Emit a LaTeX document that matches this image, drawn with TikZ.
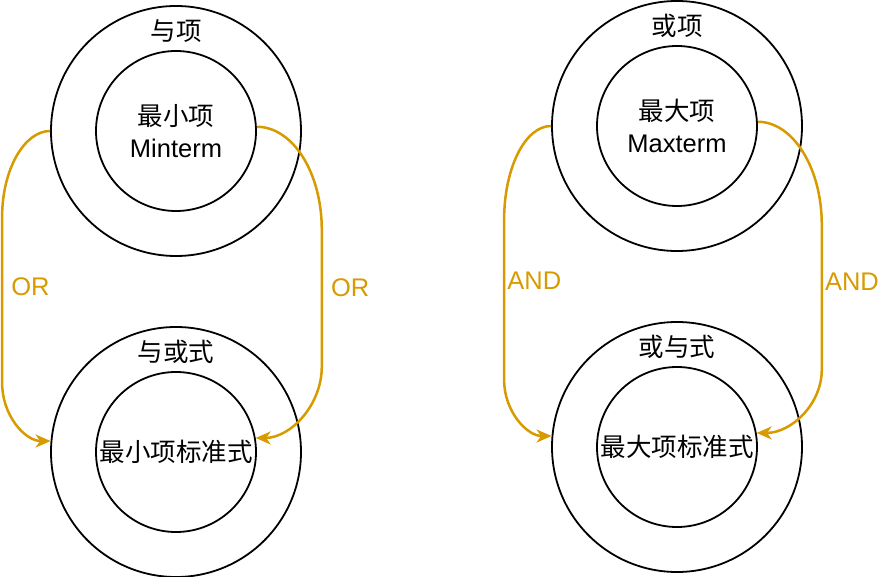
\documentclass[tikz,border=0pt]{standalone}
\usepackage{fontspec}
\setmainfont{Liberation Sans}
\newfontfamily\cjk{Noto Sans CJK SC}
\usepackage{xcolor}
\usetikzlibrary{arrows.meta, positioning}
\definecolor{orangeline}{HTML}{D79B00}

\begin{document}
\begin{tikzpicture}[x=1pt, y=-1pt, node distance=100pt, on grid,
  font=\fontsize{25.5}{32}\selectfont,
  ring/.style={circle, draw, line width=1.8pt, minimum size=250pt, inner sep=0pt},
  core/.style={circle, draw, line width=1.8pt, minimum size=160pt, inner sep=0pt, align=center},
  link/.style={-{Stealth[length=15pt, width=13pt, inset=4.5pt]}, line width=2.5pt, draw=orangeline},
  tagor/.style={right, text=orangeline, inner sep=8pt},
  tagand/.style={right, text=orangeline, inner sep=2pt}]
\useasboundingbox (0,0) rectangle (892,577);

% minterm side
\node (minO) [ring] at (176,131) {};
\node (min) [core] at (minO) {{\cjk 最小项}\\Minterm};
\node (minT) [above=of minO] {\cjk 与项};
\node (sopO) [ring, below=321pt of minO] {};
\node (sop) [core] at (sopO) {\cjk 最小项标准式};
\node (sopT) [above=of sopO] {\cjk 与或式};

% maxterm side
\node (maxO) [ring] at (677,126) {};
\node (max) [core] at (maxO) {{\cjk 最大项}\\Maxterm};
\node (maxT) [above=of maxO] {\cjk 或项};
\node (posO) [ring, below=321pt of maxO] {};
\node (pos) [core] at (posO) {\cjk 最大项标准式};
\node (posT) [above=of posO] {\cjk 或与式};

\draw [link] (minO.west) .. controls +(-26,0) and +(0,-47) .. ++(-48,86)
    -- node[tagor, pos=0.42] {OR} ++(0,166)
    .. controls +(0,32) and +(-26,0) .. (sopO.175.4);
\draw [link] (min.3) .. controls +(36,0) and +(0,-57) .. ++(65,103)
    -- node[tagor, pos=0.42] {OR} ++(0,137)
    .. controls +(0,38) and +(35,0) .. (sop.10.8);

\draw [link] (maxO.west) .. controls +(-26,0) and +(0,-52) .. ++(-47,94)
    -- node[tagand, pos=0.38] {AND} ++(0,160)
    .. controls +(0,31) and +(-25,0) .. (posO.175.4);
\draw [link] (max.3) .. controls +(35,0) and +(0,-57) .. ++(64,103)
    -- node[tagand, pos=0.39] {AND} ++(0,145)
    .. controls +(0,34) and +(35,0) .. (pos.10.8);
\end{tikzpicture}
\end{document}
